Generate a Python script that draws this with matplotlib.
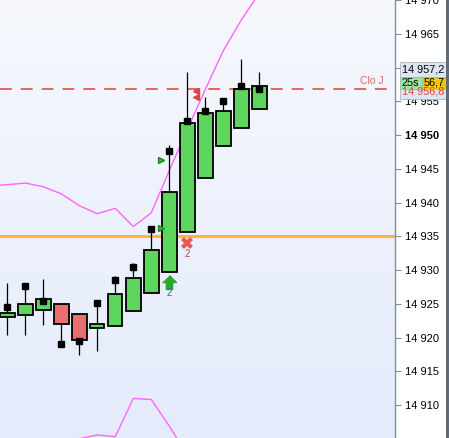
import numpy as np
import matplotlib.pyplot as plt
from matplotlib.patches import Rectangle
from matplotlib.colors import LinearSegmentedColormap

plt.rcParams['font.family'] = ['Liberation Sans', 'DejaVu Sans']
plt.rcParams['lines.scale_dashes'] = False

# candles (one minute bars)
opens = [14923.0, 14923.3, 14924.1, 14925.0, 14923.5, 14921.5, 14921.7, 14924.0,
         14926.6, 14929.8, 14935.6, 14943.7, 14948.4, 14951.0, 14953.9]
highs = [14928.1, 14927.6, 14928.7, 14925.2, 14923.5, 14925.5, 14929.1, 14931.1,
         14936.4, 14948.6, 14959.3, 14955.7, 14955.4, 14961.2, 14959.3]
lows = [14920.4, 14920.4, 14921.9, 14919.1, 14917.5, 14918.0, 14921.7, 14924.0,
        14926.6, 14929.8, 14935.6, 14943.7, 14948.4, 14951.0, 14953.9]
closes = [14923.6, 14925.0, 14925.8, 14922.0, 14919.6, 14922.1, 14926.5, 14928.9,
          14933.0, 14941.6, 14951.8, 14953.2, 14953.5, 14956.8, 14957.2]
dots = [14924.5, 14927.6, 14925.5, 14919.1, 14919.5, 14925.1, 14928.6, 14930.5,
        14936.1, 14947.6, 14952.1, 14953.6, 14955.1, 14957.2, 14956.8]

# bands
upper_x = [-1, 0, 1, 2, 3, 4, 5, 6, 7, 8, 9, 10, 11, 12, 13, 14]
upper = [14942.5, 14942.65, 14942.9, 14942.35, 14941.3, 14939.55, 14938.35, 14939.15,
         14936.45, 14938.5, 14944.75, 14950.8, 14956.75, 14962.5, 14967.05, 14971.0]
lower_x = [3, 4, 5, 6, 7, 8, 9, 10]
lower = [14904.1, 14905.05, 14905.6, 14905.35, 14911.0, 14910.85, 14906.9, 14902.65]

support = 14935.0
close_j = 14956.8
last_price = 14957.2

# signals
buy_tri_x = [8.54, 8.54]
buy_tri_y = [14946.3, 14936.3]
arrow_x, arrow_y = 9, 14928.2
cross_x, cross_y = 10, 14934.0
sell_x = [10.46, 10.46]
sell_y = [14956.6, 14955.6]

yticks = list(range(14910, 14975, 5))

W, H = 449, 438
fig = plt.figure(figsize=(W / 100, H / 100), dpi=100)
fig.patch.set_facecolor('white')
ax = fig.add_axes([0, 0, 395 / W, 1])

x0 = 7.3 / 18
ax.set_xlim(-x0, (395 - 7.3) / 18)
ax.set_ylim(14935 - 203 / 6.8, 14935 + 235 / 6.8)

grad = np.linspace(0, 1, 256).reshape(-1, 1)
cmap = LinearSegmentedColormap.from_list('bg', ['#f6f8fe', '#e4ebfb'])
ax.imshow(grad, cmap=cmap, extent=[0, 1, 0, 1], transform=ax.transAxes,
          aspect='auto', zorder=0)

ax.plot(upper_x, upper, color='#ff66ff', lw=1, zorder=2)
ax.plot(lower_x, lower, color='#ff66ff', lw=1, zorder=2)

ax.axhline(support, color='#ffb640', lw=2.2, zorder=1)
ax.axhline(close_j, color='#e06666', lw=1.4, dashes=(8.5, 6.5), zorder=1)
ax.text(20.25, close_j + 0.5, 'Clo J', color='#e06666', fontsize=7.5,
        ha='center', va='bottom', zorder=3)

for i in range(len(opens)):
    o, h, l, c = opens[i], highs[i], lows[i], closes[i]
    ax.vlines(i, l, h, color='black', lw=0.9, zorder=3)
    col = '#5cd65c' if c >= o else '#e87070'
    ax.add_patch(Rectangle((i - 0.4, min(o, c)), 0.8, abs(c - o),
                           facecolor=col, edgecolor='black', lw=1.3, zorder=4))
ax.plot(range(len(dots)), dots, 's', color='black', ms=4.3, zorder=5)

ax.plot(buy_tri_x, buy_tri_y, '>', color='#33bb33', mec='#1a8a1a', ms=5, zorder=5)
arrow = [(0, 1), (1, 0), (0.45, 0), (0.45, -1), (-0.45, -1), (-0.45, 0), (-1, 0)]
ax.plot(arrow_x, arrow_y, marker=arrow, color='#2aaa2a', ms=10, zorder=5)
ax.text(arrow_x, arrow_y - 1.6, '2', color='#5a5aa0', fontsize=7, ha='center',
        va='center', zorder=5)
ax.plot(cross_x, cross_y, marker='X', color='#e85858', ms=9, mew=0, zorder=5)
ax.text(cross_x, cross_y - 1.6, '2', color='#b04848', fontsize=7, ha='center',
        va='center', zorder=5)
ax.plot(sell_x, sell_y, '<', color='#e04040', ms=4.5, zorder=5)

ax.yaxis.tick_right()
ax.set_yticks(yticks)
ax.set_yticklabels([f'{t:,}'.replace(',', ' ') for t in yticks], fontsize=8)
for lab, t in zip(ax.get_yticklabels(), yticks):
    if t == 14950:
        lab.set_fontweight('bold')
ax.tick_params(axis='y', direction='out', length=4, width=0.8, color='#8090a0', pad=3)
ax.set_xticks([])
for s in ['top', 'left', 'bottom']:
    ax.spines[s].set_visible(False)
ax.spines['right'].set_color('#8090a0')
ax.spines['right'].set_linewidth(1)


def box(x, y, w, h, fc, txt, tc):
    fig.add_artist(Rectangle((x / W, 1 - (y + h) / H), w / W, h / H, facecolor=fc,
                             edgecolor='#a8b4c4', lw=0.6, transform=fig.transFigure))
    fig.text((x + w / 2) / W, 1 - (y + h / 2) / H, txt, color=tc, fontsize=7.8,
             ha='center', va='center')


box(400, 85, 46, 14, '#dde6f0', '14 956,8', '#e04040')
box(400, 62, 46, 14.5, '#dde6f0', '14 957,2', 'black')
box(400, 76.5, 21.5, 12, '#98e898', '25s', 'black')
box(421.5, 76.5, 24.5, 12, '#f7c600', '56,7', 'black')

fig.add_artist(Rectangle((446 / W, 0), 3 / W, 1, facecolor='#5f6b78', edgecolor='none',
                         transform=fig.transFigure))

fig.savefig('out.png', dpi=100)
